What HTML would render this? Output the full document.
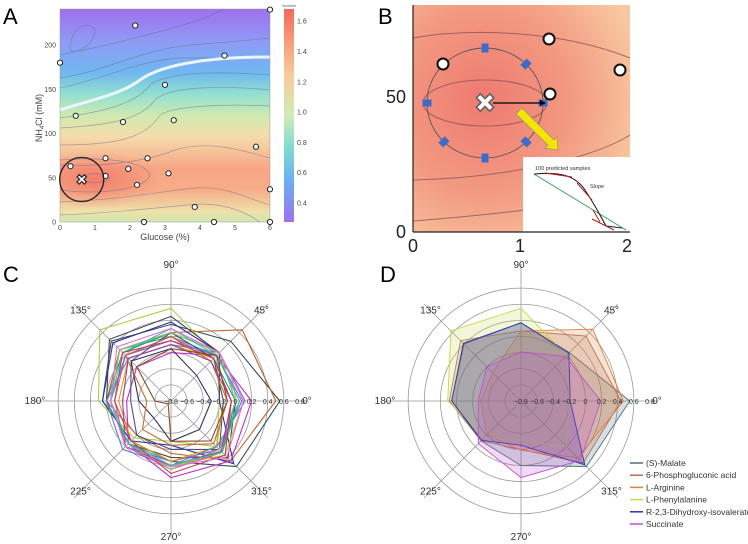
<!DOCTYPE html>
<html><head><meta charset="utf-8"><style>
html,body{margin:0;padding:0;background:#fff;}
svg{display:block;font-family:"Liberation Sans",sans-serif;}
</style></head><body>
<svg id="fig" width="748" height="544" viewBox="0 0 748 544">
<defs>
<clipPath id="clipA"><rect x="60" y="9" width="210" height="213"/></clipPath>
<linearGradient id="gA" x1="0" y1="0" x2="0" y2="1">
<stop offset="0" stop-color="#a070ee"/><stop offset="0.15" stop-color="#8f9af5"/>
<stop offset="0.3" stop-color="#6fb8f0"/><stop offset="0.4" stop-color="#93e0d0"/>
<stop offset="0.5" stop-color="#cfeab0"/><stop offset="0.6" stop-color="#f6dcaa"/>
<stop offset="0.75" stop-color="#f7a585"/><stop offset="0.85" stop-color="#f7ad88"/>
<stop offset="0.95" stop-color="#eee0a8"/><stop offset="1" stop-color="#cfe8b0"/>
</linearGradient>
<linearGradient id="gCB" x1="0" y1="0" x2="0" y2="1">
<stop offset="0" stop-color="#f46a5c"/><stop offset="0.3" stop-color="#f8c99a"/>
<stop offset="0.5" stop-color="#d0ecb4"/><stop offset="0.65" stop-color="#7fdccf"/>
<stop offset="0.8" stop-color="#6ab0f2"/><stop offset="1" stop-color="#9b73ee"/>
</linearGradient>
<radialGradient id="gRed" cx="0.32" cy="0.42" r="0.75">
<stop offset="0" stop-color="#ee7a70"/><stop offset="0.55" stop-color="#f39a82"/><stop offset="1" stop-color="#f8c8a0"/>
</radialGradient>
<radialGradient id="gHot" cx="0.5" cy="0.5" r="0.5">
<stop offset="0" stop-color="#f06a60" stop-opacity="0.7"/><stop offset="1" stop-color="#f06a60" stop-opacity="0"/>
</radialGradient>
</defs>

<text x="3" y="24" font-size="22">A</text>
<text x="378" y="24" font-size="22">B</text>
<text x="3" y="282" font-size="22">C</text>
<text x="380" y="282" font-size="22">D</text>

<g id="panelA">
<g clip-path="url(#clipA)">
<rect x="60" y="9" width="210" height="213" fill="url(#gA)"/>
<ellipse cx="95" cy="180" rx="65" ry="28" fill="url(#gHot)"/>
<g fill="none" stroke="#6a6a8a" stroke-width="0.7" opacity="0.55">
<path d="M70,50 C70,25 90,20 95,30 C95,45 75,55 70,50Z"/>
<path d="M60,55 C110,45 150,35 200,20 L225,9"/>
<path d="M60,78 C110,70 140,50 190,45 C230,42 250,40 270,38"/>
<path d="M60,88 C100,80 140,60 180,58 L270,58"/>
<path d="M60,118 C100,112 135,105 150,85 C170,70 230,72 270,75"/>
<path d="M60,128 C110,125 140,120 155,100 C170,85 230,86 270,90"/>
<path d="M60,145 C110,145 145,140 160,115 C175,105 230,104 270,106"/>
<path d="M60,165 C110,167 150,160 175,150 C210,140 240,150 270,158"/>
<path d="M60,190 C100,195 145,190 150,175 C145,160 100,157 60,160"/>
<path d="M80,178 C85,172 105,172 110,178 C105,184 85,184 80,178Z"/>
<path d="M60,202 C120,200 170,190 195,188 C230,186 250,200 270,205"/>
<path d="M60,215 C130,212 180,205 200,204 C230,204 250,215 260,222"/>
</g>
<path d="M60,110 C90,100 120,95 140,80 C165,62 220,57 270,57" fill="none" stroke="#e8f6ff" stroke-width="3"/>
</g>
<rect x="60" y="9" width="210" height="213" fill="none" stroke="#999" stroke-width="0.5"/>
<g id="ptsA"></g>
<circle id="aCircle" r="22" fill="none" stroke="#222" stroke-width="1.3"/>
<text id="aX" font-size="14" font-weight="bold" fill="#fff" stroke="#333" stroke-width="0.8" text-anchor="middle" dominant-baseline="central">✖</text>
<g id="axA" font-size="7" fill="#444"></g>
<text x="165" y="240" font-size="9" fill="#444" text-anchor="middle">Glucose (%)</text>
<text transform="translate(42,118) rotate(-90)" font-size="9" fill="#444" text-anchor="middle">NH<tspan font-size="6" dy="2">4</tspan><tspan dy="-2">Cl (mM)</tspan></text>
<rect x="284" y="9" width="10" height="213" fill="url(#gCB)"/>
<text x="289" y="7" font-size="3.5" fill="#555" text-anchor="middle">Surfactin</text>
<g id="cbTicks" font-size="7" fill="#444"></g>
</g>

<g id="panelB">
<rect x="413" y="5" width="217" height="227" fill="url(#gRed)"/>
<g fill="none" stroke="#8a5555" stroke-width="1" opacity="0.8">
<ellipse cx="485" cy="103" rx="62" ry="23"/>
<path d="M413,38 C470,28 560,30 630,58"/>
<path d="M413,180 C500,178 590,160 630,135"/>
<path d="M413,221 C490,215 580,205 630,192"/>
</g>
<ellipse cx="485" cy="103" rx="58" ry="55" fill="none" stroke="#555" stroke-width="0.9"/>
<g id="boxesB" fill="#3d6cc8"></g>
<g fill="#fff" stroke="#111" stroke-width="2">
<circle cx="443" cy="64" r="5.5"/><circle cx="549" cy="39" r="5.5"/><circle cx="620" cy="70" r="5.5"/><circle cx="550" cy="94" r="5.5"/>
</g>
<text x="485" y="103" font-size="26" font-weight="bold" fill="#fff" stroke="#666" stroke-width="0.8" text-anchor="middle" dominant-baseline="central">✖</text>
<line x1="493" y1="103" x2="540" y2="103" stroke="#000" stroke-width="1.2"/>
<polygon points="540,100 546,103 540,106" fill="#000"/>
<polygon points="518,112 522,108 554,140 557,137 558,150 545,148 548,145 516,114" fill="#f5e400" stroke="#888" stroke-width="0.6"/>
<rect x="523" y="157" width="107" height="75" fill="#fff"/>
<text x="535" y="170" font-size="5.5" fill="#333">100 predicted samples</text>
<text x="590" y="188" font-size="5.5" fill="#333">Slope</text>
<path d="M534,174 L626,230" stroke="#3a9a6a" stroke-width="1" fill="none"/>
<path d="M534,174 C560,172 575,175 585,190 C595,205 600,215 606,226 L622,228" stroke="#222" stroke-width="1.1" fill="none"/>
<path d="M545,173 L572,177 M577,183 L592,200 M593,210 L600,222 M592,219 L614,230" stroke="#b02020" stroke-width="1" fill="none"/>
<line x1="413" y1="5" x2="413" y2="232" stroke="#222" stroke-width="1.2"/>
<line x1="413" y1="232" x2="630" y2="232" stroke="#222" stroke-width="1.2"/>
<g id="axB" font-size="18" fill="#222"></g>
</g>

<g id="radarC"></g>
<g id="radarD"></g>
<g id="legendD" font-size="8.5" fill="#333"></g>
</svg>
<script>
const aGlucose = [2.15,0,4.7,6,3,0.45,1.8,3.25,5.6,1.3,2.5,0.3,1.95,1.3,3.1,2.2,6,3.85,2.4,4.4,6];
const aNH4 = [222,180,188,240,155,120,113,115,85,72,72,63,60,52,55,42,37,17,0,0,0];
const aBest = [0.62,48];
const aXTicks = [0,1,2,3,4,5,6];
const aYTicks = [0,50,100,150,200];
const cbTicks = [0.4,0.6,0.8,1.0,1.2,1.4,1.6];
const bXTicks = [0,1,2];
const bYTicks = [0,50];
const bAngles = [0,45,90,135,180,225,270,315];
const radarAngles = [0,45,90,135,180,225,270,315];
const radarAngleLabels = ["0°","45°","90°","135°","180°","225°","270°","315°"];
const radarTicks = [-0.8,-0.6,-0.4,-0.2,0,0.2,0.4,0.6,0.8];
const cSeries = [
 [0.55,0.25,0.15,0.25,0.05,-0.1,-0.05,0.35],
 [0.5,0.45,0.05,0.1,0.0,-0.2,-0.15,0.25],
 [-0.2,0.0,0.35,0.45,0.1,-0.15,-0.3,0.0],
 [-0.2,0.05,0.18,0.22,0.05,-0.1,-0.25,0.3],
 [0.0,0.05,0.25,0.28,0.0,-0.05,-0.1,0.2],
 [0.2,0.0,-0.2,-0.2,-0.25,-0.05,0.15,0.25],
 [0.05,0.0,0.0,0.1,-0.05,-0.05,-0.05,0.05],
 [0.1,0.05,0.05,0.05,-0.1,0.0,0.0,0.15],
 [-0.05,-0.05,0.0,0.0,-0.1,0.0,0.05,0.1],
 [0.0,-0.05,0.05,0.05,0.0,-0.05,0.0,0.1],
 [0.08,0.0,-0.05,0.0,-0.05,0.0,-0.05,0.05],
 [-0.15,-0.05,-0.1,-0.05,-0.15,-0.1,-0.05,0.0],
 [-0.15,-0.05,0.05,-0.1,-0.3,-0.2,-0.2,0.05],
 [-0.3,-0.35,-0.15,-0.1,-0.4,-0.5,-0.3,-0.3],
 [-0.1,-0.1,0.0,0.0,-0.5,-0.3,-0.25,-0.05],
 [0.12,0.05,-0.1,-0.05,0.0,0.05,0.0,0.0],
 [0.0,0.05,0.05,0.1,-0.05,-0.05,0.05,0.05],
 [-0.05,-0.1,-0.1,-0.05,-0.2,0.0,0.0,0.08],
 [0.05,0.0,0.1,0.05,-0.05,-0.05,0.0,0.1],
 [-0.05,-0.05,-0.05,0.05,-0.1,-0.1,0.1,0.15],
 [-0.1,0.0,-0.15,-0.2,-0.6,-0.75,-0.3,-0.1],
 [0.1,0.05,0.1,0.15,-0.05,0.0,0.02,0.18]
];
const cColors = ["#2f4f5f","#c0602a","#a8d048","#3030a0","#4a4a4a","#c030c0","#30a0c0","#d0c020","#e060a0","#20a080","#8060d0","#e0a000","#505080","#303060","#c07030","#6080c0","#90c060","#a040a0","#40c0a0","#c04060","#8a4a2a","#e070e0"];
const dNames = ["(S)-Malate","6-Phosphogluconic acid","L-Arginine","L-Phenylalanine","R-2,3-Dihydroxy-isovalerate","Succinate"];
const dSeries = [
 [0.55,0.05,0.17,0.2,0.06,-0.1,0.0,0.35],
 [0.44,0.34,0.07,0.26,0.09,-0.1,-0.2,0.29],
 [0.47,0.46,0.07,-0.3,-0.3,-0.2,-0.19,0.2],
 [-0.2,0.0,0.35,0.43,0.11,-0.16,-0.3,0.0],
 [-0.19,0.04,0.17,0.21,0.06,-0.11,-0.25,0.32],
 [0.19,-0.02,-0.19,-0.2,-0.27,-0.05,0.15,0.24]
];
const dColors = ["#4f6f7f","#b07050","#e08040","#c8d850","#3030b0","#c050d0"];

const NS="http://www.w3.org/2000/svg";
function mk(tag,attrs,parent){const e=document.createElementNS(NS,tag);for(const k in attrs)e.setAttribute(k,attrs[k]);parent.appendChild(e);return e;}

const ax=g=>60+g*35, ay=n=>222-n*0.885;
const ptsA=document.getElementById('ptsA');
aGlucose.forEach((g,i)=>{const c=mk('circle',{cx:ax(g),cy:ay(aNH4[i]),r:2.6,fill:'#fff',stroke:'#222','stroke-width':1},ptsA);

});
const ac=document.getElementById('aCircle');ac.setAttribute('cx',ax(aBest[0]));ac.setAttribute('cy',ay(aBest[1]));
const axX=document.getElementById('aX');axX.setAttribute('x',ax(aBest[0]));axX.setAttribute('y',ay(aBest[1]));
const axA=document.getElementById('axA');
aXTicks.forEach(t=>{const e=mk('text',{x:ax(t),y:230,'text-anchor':'middle'},axA);e.textContent=t;

});
aYTicks.forEach(t=>{const e=mk('text',{x:56,y:ay(t)+2.5,'text-anchor':'end'},axA);e.textContent=t;

});
const cbG=document.getElementById('cbTicks');
const cby=v=>203-(v-0.4)/0.2*30.3;
cbTicks.forEach(t=>{const e=mk('text',{x:297,y:cby(t)+2.5},cbG);e.textContent=t.toFixed(1);

});

const bx=v=>413+v*107, by=v=>232-v*2.7;
const axB=document.getElementById('axB');
bXTicks.forEach(t=>{const e=mk('text',{x:bx(t),y:252,'text-anchor':'middle'},axB);e.textContent=t;

});
bYTicks.forEach(t=>{const e=mk('text',{x:406,y:by(t)+6,'text-anchor':'end'},axB);e.textContent=t;

});
const boxesB=document.getElementById('boxesB');
bAngles.forEach(a=>{const r=a*Math.PI/180;const cx=485+58*Math.cos(r),cy=103-55*Math.sin(r);
const e=mk('rect',{x:cx-4.5,y:cy-3.5,width:9,height:7,transform:`rotate(${-a} ${cx} ${cy})`},boxesB);

});

function radar(gid,cx,cy,series,colors,fill){
 const g=document.getElementById(gid);
 const rr=v=>(v+0.8)*80.6;
 const grid=mk('g',{fill:'none',stroke:'#999','stroke-width':0.8},g);
 
 
 radarTicks.forEach(t=>{if(t>-0.8&&t<0.7)mk('circle',{cx,cy,r:rr(t)},grid);});
 radarAngles.forEach((a,i)=>{const r=a*Math.PI/180;
  mk('line',{x1:cx,y1:cy,x2:cx+137*Math.cos(r),y2:cy-137*Math.sin(r)},grid);
  const lr=i%2?128:136;
  const t=mk('text',{x:cx+lr*Math.cos(r),y:cy-lr*Math.sin(r)+3,'text-anchor':'middle','font-size':10,fill:'#333'},g);
  t.textContent=radarAngleLabels[i];
  
  });
 series.forEach((s,k)=>{const pts=s.map((v,i)=>{const r=radarAngles[i]*Math.PI/180;return (cx+rr(v)*Math.cos(r)).toFixed(1)+','+(cy-rr(v)*Math.sin(r)).toFixed(1);}).join(' ');
  const p=mk('polygon',{points:pts,fill:fill?colors[k]:'none','fill-opacity':fill?0.22:0,stroke:colors[k],'stroke-width':fill?0.9:1.1},g);
  
  });
 radarTicks.forEach(t=>{const e=mk('text',{x:cx+rr(t),y:cy+3,'text-anchor':'middle','font-size':7,fill:'#333'},g);
  e.textContent=t===0?'0':t.toFixed(1).replace('-','−');
  
  });
}
radar('radarC',171,401,cSeries,cColors,false);
radar('radarD',521,401,dSeries,dColors,true);
const lg=document.getElementById('legendD');
mk('rect',{x:626,y:457,width:122,height:75,fill:'#fff'},lg);
dNames.forEach((n,i)=>{const y=463+i*12.2;
 mk('line',{x1:630,y1:y,x2:643,y2:y,stroke:dColors[i],'stroke-width':1.5},lg);
 const t=mk('text',{x:646,y:y+3},lg);t.textContent=n;
 
 });
</script>
</body></html>
